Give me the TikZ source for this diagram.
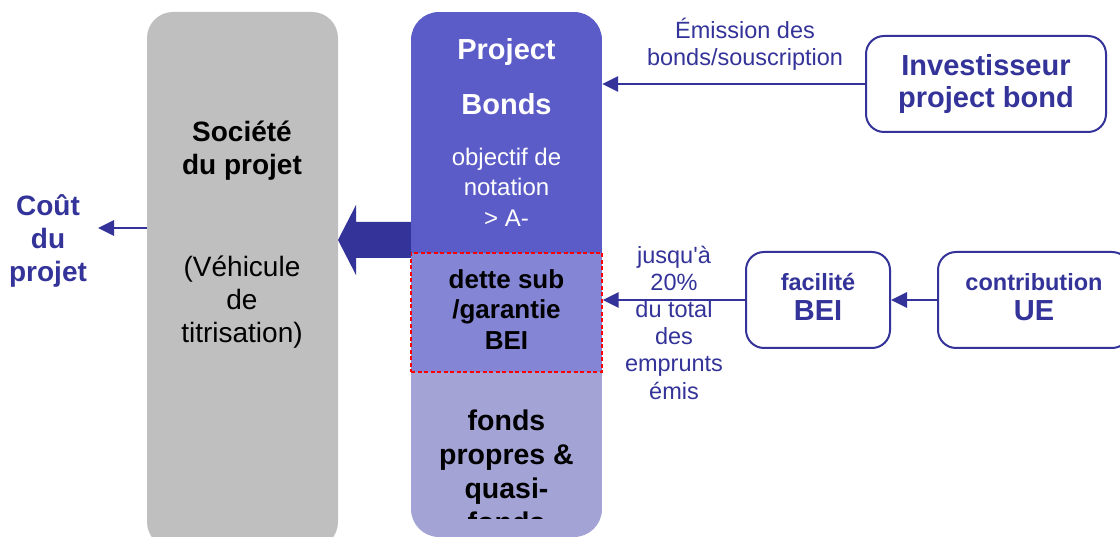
\documentclass[tikz,border=0pt]{standalone}
\usepackage{fontspec}
\setmainfont{Liberation Sans}
\usetikzlibrary{arrows.meta}
\definecolor{dblue}{RGB}{51,51,153}
\definecolor{pbtop}{RGB}{92,92,200}
\definecolor{pbmid}{RGB}{133,133,214}
\definecolor{pbbot}{RGB}{163,163,214}
\definecolor{vgray}{RGB}{191,191,191}
\tikzset{
  conn/.style={draw=dblue, line width=2.8pt, -{Triangle[length=16pt,width=15pt]}},
  actor/.style={draw=dblue, line width=2pt, rounded corners=18pt, fill=white, align=center, text=dblue, font=\bfseries},
  actortext/.style={align=center, text=dblue, inner sep=0pt, font=\bfseries\fontsize{23.5}{30}\selectfont},
  lbl/.style={align=center, text=dblue, inner sep=0pt},
  section/.style={minimum width=191pt, inner sep=0pt, align=center}
}
\begin{document}
\begin{tikzpicture}[x=1pt,y=-1pt]
\useasboundingbox (0,0) rectangle (1120,537);
\clip (0,0) rectangle (1120,537);

% Société du projet (gray column)
\node[fill=vgray, rounded corners=26pt, minimum width=191pt, minimum height=536pt, inner sep=0pt] (veh) at (242.5,280) {};
\node[align=center, font=\bfseries\fontsize{28}{33}\selectfont] (soc) at (242,151) {Société\\du projet};
\node[align=center, font=\fontsize{28}{33}\selectfont] (vt) at (242,302) {(Véhicule\\de\\titrisation)};

% Project bonds column
\begin{scope}
\clip[rounded corners=28pt] (411,12) rectangle (602,537);
\fill[pbtop] (411,12) rectangle (602,253);
\fill[pbbot] (411,372) rectangle (602,537);
\end{scope}
\node[section, minimum height=241pt] (pb) at (506.5,132.5) {};
\node[section, minimum height=119pt, fill=pbmid, draw=red, dash pattern=on 4pt off 2.5pt, line width=1.2pt] (dette) at (506.5,312.5) {};
\node[section, minimum height=165pt] (fp) at (506.5,454.5) {};

\node[align=center, text=white, font=\bfseries\fontsize{29}{55}\selectfont] (pbt) at (506.5,76.5) {Project\\Bonds};
\node[align=center, text=white, font=\fontsize{24}{30.5}\selectfont] (obj) at (506.5,187) {objectif de\\notation\\> A-};
\node[align=center, font=\bfseries\fontsize{26}{30.5}\selectfont] (dt) at (506.5,309.5) {dette sub\\/garantie\\BEI};
\begin{scope}
\clip (411,372) rectangle (602,518);
\node[align=center, font=\bfseries\fontsize{28.5}{34}\selectfont] (fpt) at (506.5,471) {fonds\\propres \&\\quasi-\\fonds};
\end{scope}

% big arrow
\fill[dblue] (pb.west |- 0,222) -- (356,222) -- (356,205) -- (338,240) -- (356,275) -- (356,258) -- (pb.west |- 0,258) -- cycle;

% Coût du projet
\node[lbl, font=\bfseries\fontsize{28}{33}\selectfont] (cout) at (48,241) {Coût\\du\\projet};
\coordinate (ct) at (98,228);
\draw[conn] (veh.west |- ct) -- (ct);

% Investisseur
\node[actor, minimum width=240pt, minimum height=96pt, font=\bfseries\fontsize{29}{32}\selectfont] (inv) at (986,84) {Investisseur\\project bond};
\draw[conn] (inv.west) -- (inv.west -| pb.east);
\node[lbl, font=\fontsize{23.5}{27}\selectfont] (em) at (745,44.5) {Émission des\\bonds/souscription};

% facilité BEI, contribution UE
\node[actor, minimum width=144pt, minimum height=96pt] (fac) at (818,300) {};
\node[actortext] (fact) at (818,297) {facilité\\{\fontsize{29}{30}\selectfont BEI}};
\node[actor, minimum width=192pt, minimum height=96pt] (ue) at (1034,300) {};
\node[actortext] (uet) at (1034,297) {contribution\\{\fontsize{29}{30}\selectfont UE}};
\draw[conn] (ue.west) -- (fac.east);
\draw[conn] (fac.west) -- (fac.west -| dette.east);
\node[lbl, font=\fontsize{23.5}{27.2}\selectfont] (jq) at (674,322.5) {jusqu\textquotesingle à\\20\%\\du total\\des\\emprunts\\émis};
\end{tikzpicture}
\end{document}
